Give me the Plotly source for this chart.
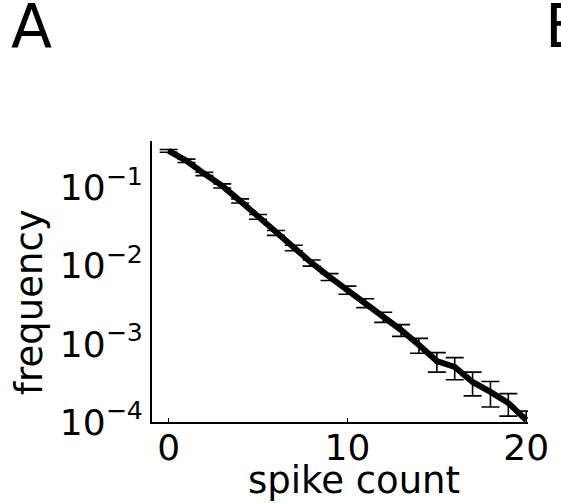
import plotly.graph_objects as go

# data
spike_count = list(range(21))
frequency = [0.298, 0.222, 0.151, 0.106, 0.0681, 0.0425, 0.0265, 0.0170, 0.0109,
             0.00723, 0.00492, 0.00336, 0.00222, 0.00151, 0.000970, 0.000605,
             0.000507, 0.000326, 0.000243, 0.000175, 0.000106]
freq_err = [0.0119, 0.0111, 0.0076, 0.0064, 0.0041, 0.0030, 0.0019, 0.0014, 0.00098,
            0.00072, 0.00059, 0.00044, 0.00033, 0.00026, 0.00021, 0.00017,
            0.00016, 0.00011, 0.000087, 0.000056, 0.000032]
x_ticks = [0, 10, 20]
y_ticks = [1e-4, 1e-3, 1e-2, 1e-1]
y_tick_text = ["10<sup>\u22124</sup>", "10<sup>\u22123</sup>", "10<sup>\u22122</sup>", "10<sup>\u22121</sup>"]

W, H = 561, 503
L, R, T, B = 152, 24, 141, 81
pw, ph = W - L - R, H - T - B

def px(x):
    return (x - L) / pw

def py(y):
    return (H - B - y) / ph

FONT = "DejaVu Sans"

fig = go.Figure()
fig.add_trace(go.Scatter(
    x=spike_count, y=frequency, mode="lines",
    line=dict(color="black", width=6),
    error_y=dict(type="data", array=freq_err, visible=True,
                 color="black", thickness=1.6, width=9),
    showlegend=False,
))

fig.update_layout(
    width=W, height=H,
    margin=dict(l=L, r=R, t=T, b=B),
    paper_bgcolor="white", plot_bgcolor="white",
    font=dict(family=FONT, color="black"),
    xaxis=dict(range=[-0.93, 20.1], tickvals=x_ticks, ticks="inside", ticklen=4,
               tickwidth=1, tickcolor="black", showgrid=False, zeroline=False,
               showline=True, linecolor="black", linewidth=2,
               ticklabelstandoff=-7,
               tickfont=dict(size=36, family=FONT)),
    yaxis=dict(type="log", range=[-4.0, -0.40], tickvals=y_ticks, ticktext=y_tick_text,
               ticks="", showgrid=False, zeroline=False,
               showline=True, linecolor="black", linewidth=2,
               tickfont=dict(size=36, family=FONT)),
    annotations=[
        dict(text="frequency", textangle=-90, xref="paper", yref="paper",
             x=px(26), y=py(302), showarrow=False, xanchor="center", yanchor="middle",
             font=dict(size=37, family=FONT)),
        dict(text="spike count", xref="paper", yref="paper",
             x=px(359), y=py(480), showarrow=False, xanchor="center", yanchor="middle",
             font=dict(size=37, family=FONT)),
        dict(text="A", xref="paper", yref="paper",
             x=px(29), y=py(26), showarrow=False, xanchor="center", yanchor="middle",
             font=dict(size=60, family=FONT)),
        dict(text="B", xref="paper", yref="paper",
             x=px(552), y=py(26), showarrow=False, xanchor="left", yanchor="middle",
             font=dict(size=60, family=FONT)),
    ],
)

fig.write_html("out.html")
